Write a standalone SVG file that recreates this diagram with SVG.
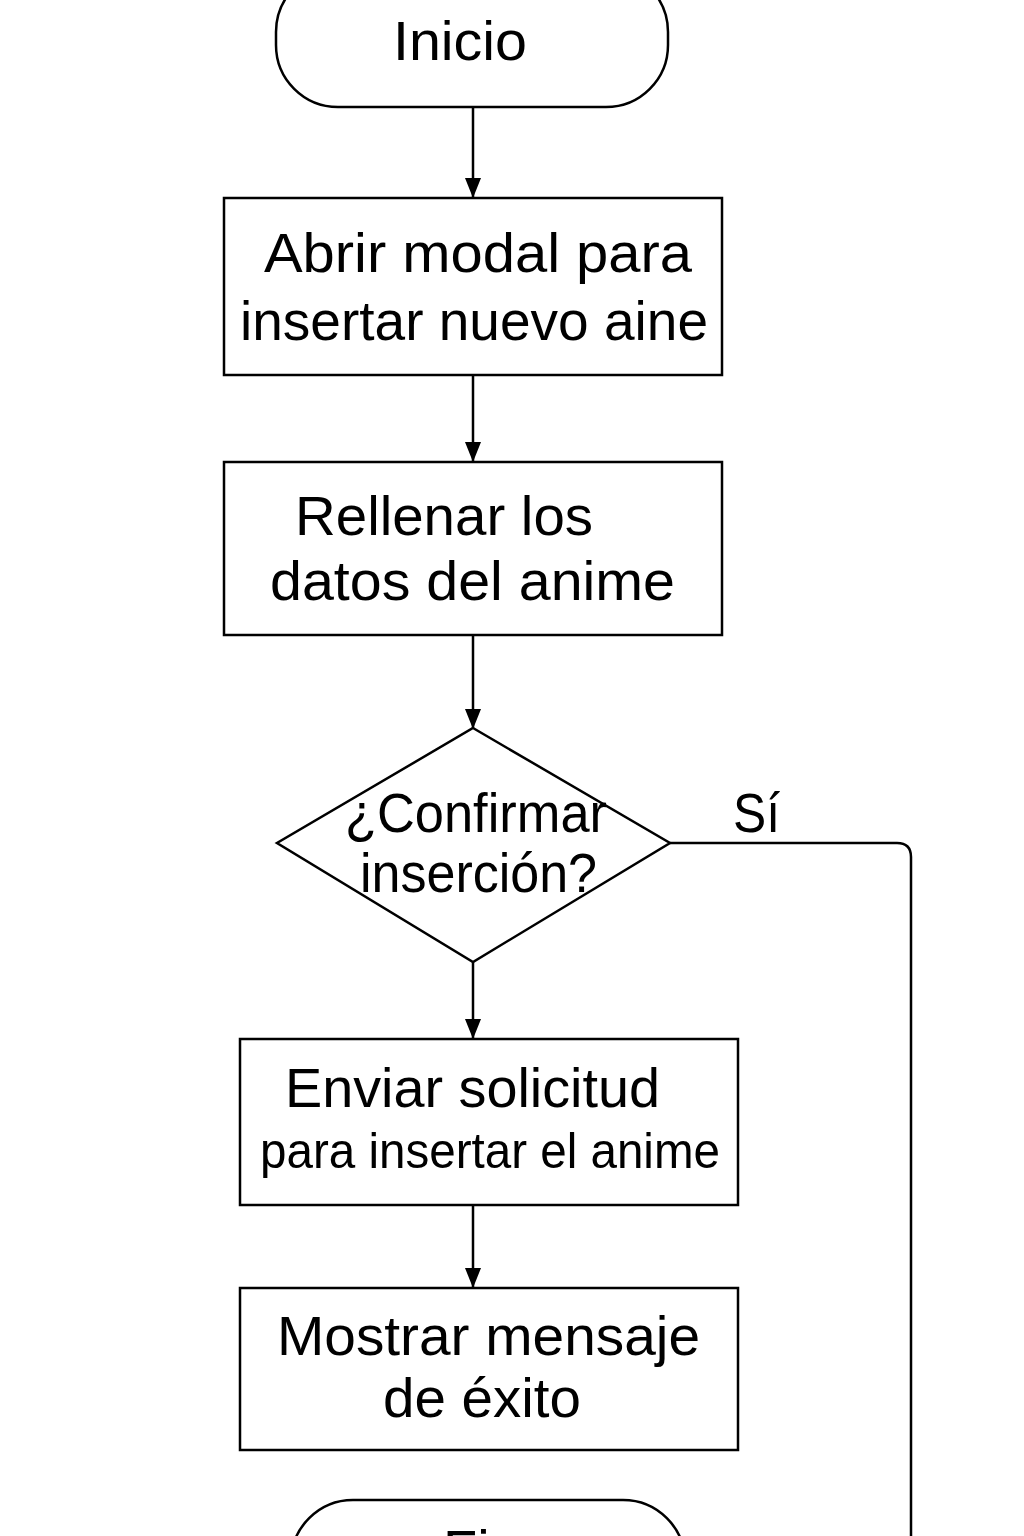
<svg xmlns="http://www.w3.org/2000/svg" width="1024" height="1536" viewBox="0 0 1024 1536">
<style>
.shape{fill:#fff;stroke:#000;stroke-width:2.5}
.edge{fill:none;stroke:#000;stroke-width:2.5}
.t{font-family:"Liberation Sans",Arial,Helvetica,sans-serif;font-size:56px;fill:#000}
</style>
<defs>
<marker id="arr" markerWidth="20" markerHeight="16" refX="20" refY="8" orient="auto" markerUnits="userSpaceOnUse" viewBox="0 0 20 16">
<path d="M0,0 L20,8 L0,16 Z" fill="#000"/>
</marker>
</defs>
<rect width="1024" height="1536" fill="#fff"/>
<g id="connectors">
<line class="edge" x1="473" y1="107" x2="473" y2="198" marker-end="url(#arr)"/>
<line class="edge" x1="473" y1="375" x2="473" y2="462" marker-end="url(#arr)"/>
<line class="edge" x1="473" y1="635" x2="473" y2="729" marker-end="url(#arr)"/>
<line class="edge" x1="473" y1="962" x2="473" y2="1039" marker-end="url(#arr)"/>
<line class="edge" x1="473" y1="1205" x2="473" y2="1288" marker-end="url(#arr)"/>
<path class="edge" d="M670,843 H897 Q911,843 911,857 V1545"/>
<text class="t" x="733" y="832" textLength="47" lengthAdjust="spacingAndGlyphs">Sí</text>
</g>
<g id="inicio">
<rect class="shape" x="276" y="-30" width="392" height="137" rx="62" ry="62"/>
<text class="t" x="393" y="60" textLength="134" lengthAdjust="spacingAndGlyphs">Inicio</text>
</g>
<g id="abrir">
<rect class="shape" x="224" y="198" width="498" height="177"/>
<text class="t" x="264" y="272" textLength="428" lengthAdjust="spacingAndGlyphs">Abrir modal para</text>
<text class="t" x="240" y="340" textLength="468" lengthAdjust="spacingAndGlyphs">insertar nuevo aine</text>
</g>
<g id="rellenar">
<rect class="shape" x="224" y="462" width="498" height="173"/>
<text class="t" x="295" y="535" textLength="298" lengthAdjust="spacingAndGlyphs">Rellenar los</text>
<text class="t" x="270" y="600" textLength="405" lengthAdjust="spacingAndGlyphs">datos del anime</text>
</g>
<g id="confirmar">
<polygon class="shape" points="473,728 670,843 473,962 277,843"/>
<text class="t" x="345" y="832" textLength="262" lengthAdjust="spacingAndGlyphs">¿Confirmar</text>
<text class="t" x="360" y="892" textLength="237" lengthAdjust="spacingAndGlyphs">inserción?</text>
</g>
<g id="enviar">
<rect class="shape" x="240" y="1039" width="498" height="166"/>
<text class="t" x="285" y="1107" textLength="375" lengthAdjust="spacingAndGlyphs">Enviar solicitud</text>
<text class="t" x="260" y="1168" textLength="460" lengthAdjust="spacingAndGlyphs" style="font-size:50px">para insertar el anime</text>
</g>
<g id="mostrar">
<rect class="shape" x="240" y="1288" width="498" height="162"/>
<text class="t" x="277" y="1355" textLength="423" lengthAdjust="spacingAndGlyphs">Mostrar mensaje</text>
<text class="t" x="383" y="1417" textLength="198" lengthAdjust="spacingAndGlyphs">de éxito</text>
</g>
<g id="fin">
<rect class="shape" x="291" y="1500" width="394" height="140" rx="62" ry="62"/>
<text class="t" x="443" y="1569">Fin</text>
</g>
</svg>
